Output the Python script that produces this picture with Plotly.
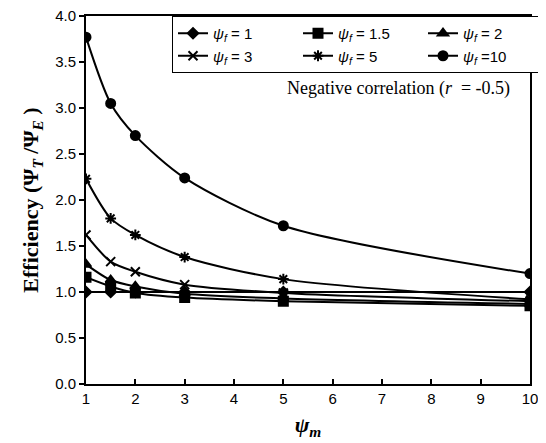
import plotly.graph_objects as go

psi_m = [1, 1.5, 2, 3, 5, 10]
psi_f_labels = ["1", "1.5", "2", "3", "5", "10"]
eff_1 = [1.00, 1.00, 1.00, 1.00, 1.00, 1.00]
eff_1_5 = [1.16, 1.06, 0.99, 0.94, 0.90, 0.85]
eff_2 = [1.30, 1.13, 1.06, 0.98, 0.93, 0.87]
eff_3 = [1.62, 1.33, 1.22, 1.08, 0.99, 0.90]
eff_5 = [2.23, 1.80, 1.62, 1.38, 1.14, 0.92]
eff_10 = [3.77, 3.05, 2.70, 2.24, 1.72, 1.20]

series = [eff_1, eff_1_5, eff_2, eff_3, eff_5, eff_10]
symbols = ["diamond", "square", "triangle-up", "x-thin-open", "asterisk-open", "circle"]
sizes = [8, 9, 9, 9, 9, 9]

fig = go.Figure()
for lab, ys, sym, sz in zip(psi_f_labels, series, symbols, sizes):
    name = "<i>ψ<sub>f</sub></i> = " + lab if lab != "10" else "<i>ψ<sub>f</sub></i> =10"
    fig.add_trace(go.Scatter(
        x=psi_m, y=ys, mode="lines+markers", name=name,
        line=dict(color="black", width=2, shape="spline", smoothing=0.8),
        marker=dict(symbol=sym, size=sz, color="black",
                    line=dict(color="black", width=2)),
    ))

fig.add_annotation(
    x=(398 - 86) / 444, y=(383 - 87) / 369, xref="paper", yref="paper", showarrow=False,
    xanchor="center", yanchor="middle",
    text="Negative correlation (<i>r</i>  = -0.5)",
    font=dict(family="Liberation Serif", size=18, color="black"),
)

fig.update_layout(
    width=546, height=443,
    margin=dict(l=78, r=24, t=8, b=67, autoexpand=False),
    paper_bgcolor="white", plot_bgcolor="white",
    font=dict(family="Liberation Sans", size=15, color="black"),
    showlegend=True,
    legend=dict(
        orientation="h", x=(172 - 86) / 444, xanchor="left", y=1, yanchor="top",
        bordercolor="black", borderwidth=1, bgcolor="white",
        entrywidth=80, tracegroupgap=0, itemwidth=30,
        font=dict(family="Liberation Sans", size=15),
    ),
    xaxis=dict(
        range=[1, 10], dtick=1, tick0=1, showgrid=False, zeroline=False,
        showline=True, linecolor="black", linewidth=2, mirror=True,
        ticks="inside", ticklen=5, tickwidth=2, tickcolor="black",
        tickfont=dict(size=15), ticklabeloverflow="allow",
        title=dict(text="<b><i>ψ<sub>m</sub></i></b>", font=dict(family="Liberation Serif", size=22), standoff=11),
    ),
    yaxis=dict(
        range=[0, 4], dtick=0.5, tickformat=".1f", showgrid=False, zeroline=False,
        showline=True, linecolor="black", linewidth=2, mirror=True,
        ticks="outside", ticklen=5, tickwidth=2, tickcolor="black",
        tickfont=dict(size=15), ticklabeloverflow="allow",
        title=dict(text="<b>Efficiency (Ψ<sub><i>T</i></sub> /Ψ<sub><i>E</i></sub> )</b>",
                   font=dict(family="Liberation Serif", size=22), standoff=10),
    ),
)

fig.write_html("out.html")
